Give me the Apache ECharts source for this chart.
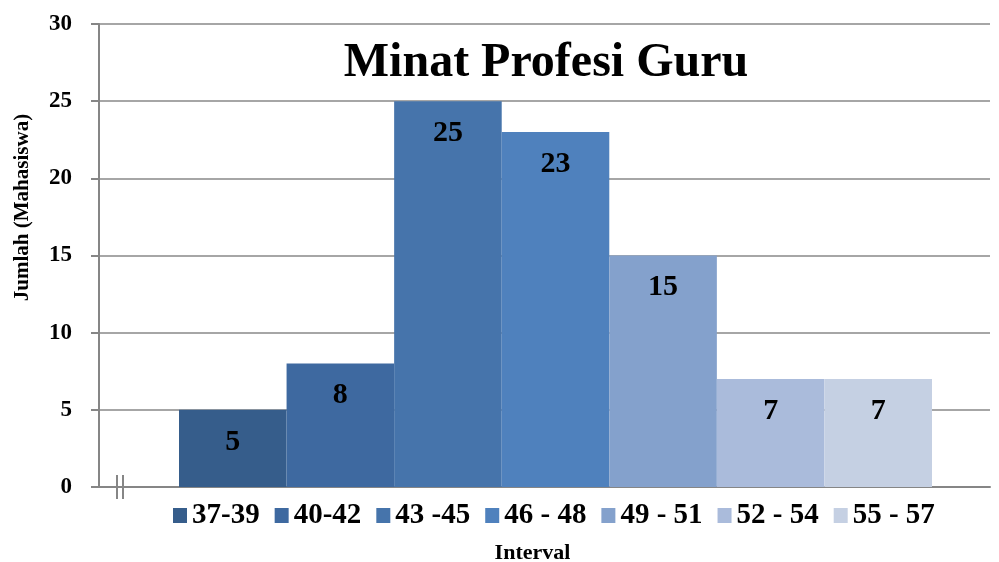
<!DOCTYPE html>
<html>
<head>
<meta charset="utf-8">
<script src="https://cdn.jsdelivr.net/npm/echarts@6/dist/echarts.min.js"></script>
<style>
  html, body { margin: 0; padding: 0; background: #fff; }
  #main { width: 999px; height: 562px; }
</style>
</head>
<body>
<div id="main"></div>
<script>
var chartDom = document.getElementById('main');
var myChart = echarts.init(chartDom);

// data
var intervals = ['37-39', '40-42', '43 -45', '46 - 48', '49 - 51', '52 - 54', '55 - 57'];
var counts = [5, 8, 25, 23, 15, 7, 7];
var colors = ['#365d8b', '#3e69a0', '#4674ab', '#4f81bd', '#84a1cc', '#aabbdb', '#c5d0e3'];
var yTicks = { min: 0, max: 30, interval: 5 };

var font = '"Liberation Serif", "Times New Roman", serif';
var axisGray = '#868686';

var series = [];
for (var i = 0; i < intervals.length; i++) {
  var d = [];
  for (var j = 0; j < intervals.length; j++) {
    d.push(j === i ? counts[i] : '-');   // one bar per series, histogram style
  }
  series.push({
    name: intervals[i],
    type: 'bar',
    xAxisIndex: 1,
    yAxisIndex: 1,
    stack: 'all',
    barWidth: '100%',
    data: d,
    itemStyle: { color: colors[i] },
    label: {
      show: true,
      position: 'insideTop',
      distance: 17,
      color: '#000',
      fontFamily: font,
      fontWeight: 'bold',
      fontSize: 30
    }
  });
}

var option = {
  animation: false,
  title: {
    text: 'Minat Profesi Guru',
    left: 541,
    textAlign: 'center',
    top: 35,
    textStyle: { fontFamily: font, fontWeight: 'bold', fontSize: 48, color: '#000' }
  },
  legend: {
    data: intervals,
    left: 168,
    top: 496,
    icon: 'rect',
    itemWidth: 14,
    itemHeight: 15,
    itemGap: 15,
    textStyle: { fontFamily: font, fontWeight: 'bold', fontSize: 29, color: '#000' }
  },
  grid: [
    { left: 99, right: 9, top: 24, bottom: 75, outerBoundsMode: 'none' },   // frame: y axis + gridlines
    { left: 179, right: 67, top: 24, bottom: 75, outerBoundsMode: 'none' }  // bars
  ],
  // axis break mark "||" on the category axis
  graphic: [
    { type: 'line', shape: { x1: 117, y1: 475, x2: 117, y2: 499 }, style: { stroke: axisGray, lineWidth: 2 } },
    { type: 'line', shape: { x1: 123, y1: 475, x2: 123, y2: 499 }, style: { stroke: axisGray, lineWidth: 2 } }
  ],
  xAxis: [
    {
      type: 'category',
      gridIndex: 0,
      data: [''],
      name: 'Interval',
      nameLocation: 'middle',
      nameGap: 55,
      nameTextStyle: { fontFamily: font, fontWeight: 'bold', fontSize: 22, color: '#000', padding: [0, 24, 0, 0] },
      axisLine: { lineStyle: { color: axisGray, width: 2 } },
      axisTick: { show: false },
      axisLabel: { show: false }
    },
    {
      type: 'category',
      gridIndex: 1,
      data: intervals,
      axisLine: { show: false },
      axisTick: { show: false },
      axisLabel: { show: false }
    }
  ],
  yAxis: [
    {
      type: 'value',
      gridIndex: 0,
      min: yTicks.min,
      max: yTicks.max,
      interval: yTicks.interval,
      name: 'Jumlah (Mahasiswa)',
      nameLocation: 'middle',
      nameGap: 66,
      nameTextStyle: { fontFamily: font, fontWeight: 'bold', fontSize: 21, color: '#000', padding: [0, 0, 0, 96] },
      axisLine: { show: true, lineStyle: { color: axisGray, width: 2 } },
      axisTick: { show: true, length: 8, lineStyle: { color: axisGray, width: 2 } },
      axisLabel: { margin: 27, fontFamily: font, fontWeight: 'bold', fontSize: 23, color: '#000' },
      splitLine: { lineStyle: { color: '#a6a6a6', width: 2 } }
    },
    {
      type: 'value',
      gridIndex: 1,
      min: yTicks.min,
      max: yTicks.max,
      interval: yTicks.interval,
      axisLine: { show: false },
      axisTick: { show: false },
      axisLabel: { show: false },
      splitLine: { show: false }
    }
  ],
  series: series
};

myChart.setOption(option);
</script>
</body>
</html>
